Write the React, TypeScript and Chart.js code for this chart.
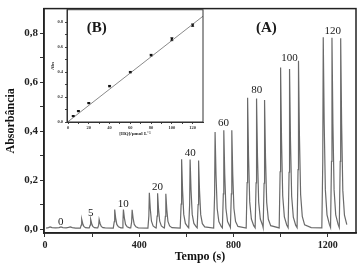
import React, { useEffect, useRef } from 'react';
import { Chart, registerables } from 'chart.js';
Chart.register(...registerables);

// ---- Main FIA trace (time s, absorbance) ----
const trace0 = [[5,.004],[15,.006],[22,.009],[30,.006],[45,.005],[60,.006],[68,.009],[76,.006],[90,.005],[100,.007],[108,.009],[116,.006],[130,.004]];
const trace5 = [[150,.004],[154,.016],[156,.040],[160,.024],[165,.011],[172,.006],[182,.005],
  [188,.005],[192,.016],[194,.040],[198,.024],[203,.011],[210,.006],[220,.005],
  [224,.005],[228,.016],[230,.039],[234,.023],[239,.011],[246,.006],[256,.005]];
const trace10 = [[290,.004],[294,.030],[296,.080],[300,.046],[305,.019],[312,.009],[322,.005],
  [327,.005],[331,.030],[333,.080],[337,.046],[342,.019],[349,.009],[359,.005],
  [364,.005],[368,.030],[370,.079],[374,.045],[379,.019],[386,.009],[396,.005]];
const trace20 = [[437,.004],[441,.054],[443,.148],[447,.083],[452,.032],[459,.013],[469,.006],
  [472,.005],[476,.053],[478,.146],[482,.082],[487,.032],[494,.013],[504,.006],
  [507,.005],[511,.052],[513,.144],[517,.081],[522,.031],[529,.013],[539,.006]];
const trace40 = [[574,.004],[578,.102],[580,.285],[584,.159],[589,.060],[596,.023],[606,.009],
  [610,.005],[614,.101],[616,.284],[620,.158],[625,.060],[632,.023],[642,.009],
  [646,.005],[650,.100],[652,.280],[656,.156],[661,.059],[668,.022],[678,.009]];
const trace60 = [[716,.004],[720,.141],[722,.396],[726,.220],[731,.083],[738,.031],[748,.011],
  [753,.005],[757,.144],[759,.403],[763,.224],[768,.084],[775,.031],[785,.011],
  [787,.006],[791,.144],[793,.403],[797,.224],[802,.084],[809,.031],[819,.011]];
const trace80 = [[854,.004],[858,.190],[860,.536],[864,.297],[869,.111],[876,.041],[886,.014],
  [892,.005],[896,.189],[898,.533],[902,.295],[907,.110],[914,.041],[924,.014],
  [926,.006],[930,.187],[932,.527],[936,.292],[941,.109],[948,.040],[958,.014]];
const trace100 = [[994,.005],[998,.234],[1000,.660],[1004,.365],[1009,.136],[1016,.050],[1026,.017],
  [1032,.006],[1036,.232],[1038,.653],[1042,.361],[1047,.134],[1054,.049],[1064,.016],
  [1070,.006],[1074,.243],[1076,.687],[1080,.380],[1085,.141],[1092,.052],[1102,.017],[1130,.006]];
const trace120 = [[1175,.005],[1179,.277],[1181,.783],[1185,.433],[1190,.160],[1197,.058],[1207,.019],
  [1212,.006],[1216,.276],[1218,.781],[1222,.432],[1227,.160],[1234,.058],[1244,.019],
  [1249,.006],[1253,.276],[1255,.779],[1259,.431],[1264,.159],[1271,.057],[1281,.018]];

const xTickValues = [0, 200, 400, 600, 800, 1000, 1200];
const yTickValues = [0, 0.1, 0.2, 0.3, 0.4, 0.5, 0.6, 0.7, 0.8];

const peakLabels = ['0', '5', '10', '20', '40', '60', '80', '100', '120'];
const peakLabelT = [67, 194, 332, 478, 617, 758, 899, 1038, 1221];
const peakLabelA = [0.029, 0.067, 0.103, 0.172, 0.312, 0.433, 0.569, 0.696, 0.809];

// ---- Inset (B): calibration ----
const concHQ = [5, 10, 20, 40, 60, 80, 100, 120];
const absHQ = [0.048, 0.088, 0.152, 0.288, 0.40, 0.536, 0.664, 0.776];
const errHQ = [0.004, 0.004, 0.004, 0.005, 0.005, 0.006, 0.012, 0.01];
const fitX = [0, 130];
const fitY = [0.003, 0.848];
const insetXTicks = [0, 10, 20, 30, 40, 50, 60, 70, 80, 90, 100, 110, 120];
const insetYTicks = [0, 0.1, 0.2, 0.3, 0.4, 0.5, 0.6, 0.7, 0.8];

const SERIF = "'Liberation Serif', 'Times New Roman', serif";

const framePlugin = (color: string, width: number) => ({
  id: 'frame',
  afterDraw(chart: any) {
    const { ctx, chartArea: a } = chart;
    ctx.save();
    ctx.strokeStyle = color;
    ctx.lineWidth = width;
    ctx.strokeRect(a.left, a.top, a.right - a.left, a.bottom - a.top);
    ctx.restore();
  },
});

const textPlugin = (id: string, items: () => { text: string; x: number; y: number; font: string }[]) => ({
  id,
  afterDatasetsDraw(chart: any) {
    const { ctx } = chart;
    const xs = chart.scales.x, ys = chart.scales.y;
    ctx.save();
    ctx.fillStyle = '#1a1a1a';
    ctx.textAlign = 'center';
    ctx.textBaseline = 'middle';
    for (const it of items()) {
      ctx.font = it.font;
      ctx.fillText(it.text, xs.getPixelForValue(it.x), ys.getPixelForValue(it.y));
    }
    ctx.restore();
  },
});

export default function App() {
  const mainRef = useRef<HTMLCanvasElement>(null);
  const insetRef = useRef<HTMLCanvasElement>(null);

  useEffect(() => {
    document.body.style.margin = '0';
    const trace = [...trace0, ...trace5, ...trace10, ...trace20, ...trace40, ...trace60, ...trace80, ...trace100, ...trace120];

    const main = new Chart(mainRef.current!, {
      type: 'line',
      data: {
        datasets: [{
          data: trace.map(([x, y]) => ({ x, y })),
          borderColor: '#6a6a6a',
          borderWidth: 1.2,
          pointRadius: 0,
          tension: 0,
          fill: false,
        }],
      },
      options: {
        animation: false,
        responsive: false,
        events: [],
        layout: { padding: { top: 4, right: 4, left: 0, bottom: 0 } },
        plugins: { legend: { display: false }, tooltip: { enabled: false } },
        scales: {
          x: {
            type: 'linear', min: -4, max: 1320,
            afterBuildTicks: (s: any) => { s.ticks = xTickValues.map(v => ({ value: v })); },
            afterFit: (s: any) => { s.height = 38; },
            ticks: {
              autoSkip: false, maxRotation: 0, padding: 2, color: '#222',
              font: { family: SERIF, weight: 'bold', size: 10 },
              callback: (v: any) => (Math.round(v) % 400 === 0 ? String(Math.round(v)) : ''),
            },
            grid: { drawOnChartArea: false, tickLength: 4, color: '#333', tickWidth: 1 },
            border: { color: '#222', width: 1.5 },
            title: { display: true, text: 'Tempo (s)', color: '#111', font: { family: SERIF, weight: 'bold', size: 12 }, padding: { top: 0, bottom: 7 } },
          },
          y: {
            type: 'linear', min: -0.016, max: 0.9,
            afterBuildTicks: (s: any) => { s.ticks = yTickValues.map(v => ({ value: v })); },
            afterFit: (s: any) => { s.width = 44; },
            ticks: {
              autoSkip: false, padding: 2, color: '#222',
              font: { family: SERIF, weight: 'bold', size: 11 },
              callback: (v: any) => (Math.round(v * 10) % 2 === 0 ? Number(v).toFixed(1).replace('.', ',') : ''),
            },
            grid: { drawOnChartArea: false, tickLength: 4, color: '#333', tickWidth: 1 },
            border: { color: '#222', width: 1.5 },
            title: { display: true, text: 'Absorbância', color: '#111', font: { family: SERIF, weight: 'bold', size: 12 }, padding: { top: 4, bottom: 0 } },
          },
        },
      } as any,
      plugins: [
        framePlugin('#222', 1.5),
        textPlugin('peakLabels', () => [
          ...peakLabels.map((t, i) => ({ text: t, x: peakLabelT[i], y: peakLabelA[i], font: `11px ${SERIF}` })),
          { text: '(A)', x: 940, y: 0.82, font: `bold 15px ${SERIF}` },
        ]),
      ],
    });

    const errorBars = {
      id: 'errorBars',
      afterDatasetsDraw(chart: any) {
        const { ctx } = chart;
        const xs = chart.scales.x, ys = chart.scales.y;
        ctx.save();
        ctx.strokeStyle = '#111';
        ctx.lineWidth = 0.8;
        concHQ.forEach((c, i) => {
          const px = xs.getPixelForValue(c);
          const y1 = ys.getPixelForValue(absHQ[i] - errHQ[i]);
          const y2 = ys.getPixelForValue(absHQ[i] + errHQ[i]);
          ctx.beginPath();
          ctx.moveTo(px, y1); ctx.lineTo(px, y2);
          ctx.moveTo(px - 1.5, y1); ctx.lineTo(px + 1.5, y1);
          ctx.moveTo(px - 1.5, y2); ctx.lineTo(px + 1.5, y2);
          ctx.stroke();
        });
        ctx.restore();
      },
    };

    const bgPlugin = {
      id: 'bg',
      beforeDraw(chart: any) {
        const { ctx, chartArea: a } = chart;
        ctx.save();
        ctx.fillStyle = '#fff';
        ctx.fillRect(a.left, a.top, a.right - a.left, a.bottom - a.top);
        ctx.restore();
      },
    };

    const inset = new Chart(insetRef.current!, {
      type: 'scatter',
      data: {
        datasets: [
          {
            type: 'line',
            data: fitX.map((x, i) => ({ x, y: fitY[i] })),
            borderColor: '#8a8a8a', borderWidth: 1, pointRadius: 0, tension: 0,
          } as any,
          {
            data: concHQ.map((x, i) => ({ x, y: absHQ[i] })),
            pointStyle: 'rect', pointRadius: 1.6, backgroundColor: '#111', borderColor: '#111', borderWidth: 0,
          },
        ],
      },
      options: {
        animation: false,
        responsive: false,
        events: [],
        layout: { padding: { top: 4, right: 3, left: 0, bottom: 0 } },
        plugins: { legend: { display: false }, tooltip: { enabled: false } },
        scales: {
          x: {
            type: 'linear', min: -1, max: 130,
            afterBuildTicks: (s: any) => { s.ticks = insetXTicks.map(v => ({ value: v })); },
            afterFit: (s: any) => { s.height = 18; },
            ticks: {
              autoSkip: false, maxRotation: 0, padding: 1, color: '#333',
              font: { family: SERIF, weight: 'bold', size: 4.5 },
              callback: (v: any) => (Math.round(v) % 20 === 0 ? String(Math.round(v)) : ''),
            },
            grid: { drawOnChartArea: false, tickLength: 2, color: '#444' },
            border: { color: '#333', width: 1 },
            title: { display: true, text: '[HQ]/µmol L\u207B\u00B9', color: '#222', font: { family: SERIF, weight: 'bold', size: 5 }, padding: { top: 0, bottom: 3 } },
          },
          y: {
            type: 'linear', min: 0, max: 0.9,
            afterBuildTicks: (s: any) => { s.ticks = insetYTicks.map(v => ({ value: v })); },
            afterFit: (s: any) => { s.width = 22; },
            ticks: {
              autoSkip: false, padding: 2, color: '#333',
              font: { family: SERIF, weight: 'bold', size: 4.5 },
              callback: (v: any) => (Math.round(v * 10) % 2 === 0 ? Number(v).toFixed(1) : ''),
            },
            grid: { drawOnChartArea: false, tickLength: 2, color: '#444' },
            border: { color: '#333', width: 1 },
            title: { display: true, text: 'Abs', color: '#222', font: { family: SERIF, weight: 'bold', size: 5 }, padding: { top: 5, bottom: 0 } },
          },
        },
      } as any,
      plugins: [
        bgPlugin,
        errorBars,
        framePlugin('#333', 1),
        textPlugin('insetLabel', () => [{ text: '(B)', x: 27.6, y: 0.752, font: `bold 15px ${SERIF}` }]),
      ],
    });

    return () => { main.destroy(); inset.destroy(); };
  }, []);

  return (
    <div style={{ position: 'relative', width: 360, height: 271, background: '#fff' }}>
      <canvas ref={mainRef} width={360} height={271} style={{ position: 'absolute', left: 0, top: 0, width: 360, height: 271 }} />
      <canvas ref={insetRef} width={162} height={135} style={{ position: 'absolute', left: 45, top: 5, width: 162, height: 135 }} />
    </div>
  );
}
